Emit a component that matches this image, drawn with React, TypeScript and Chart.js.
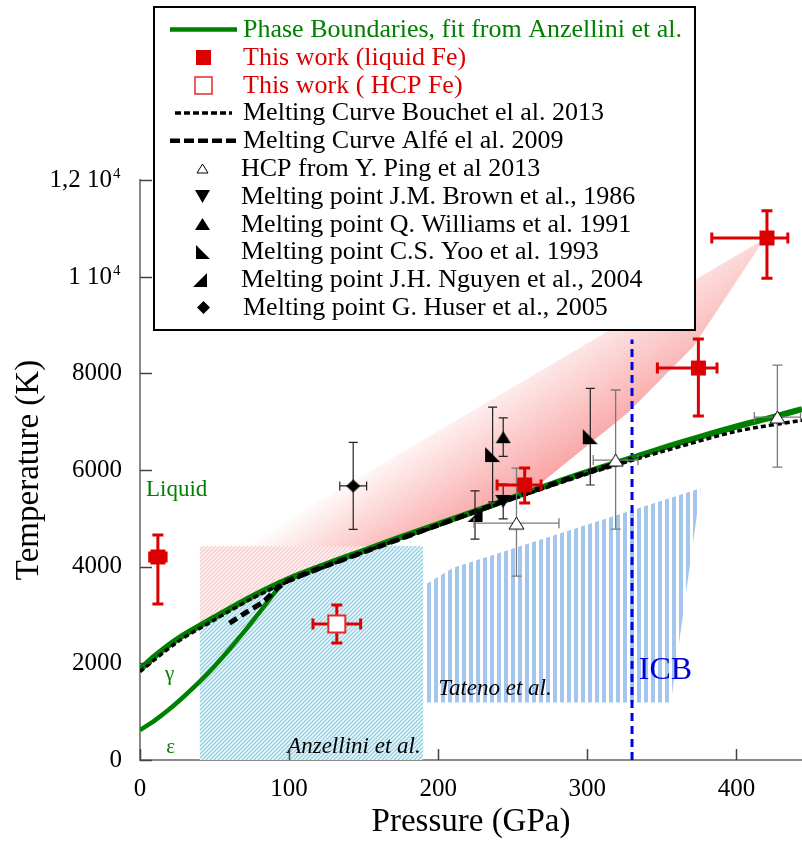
import React, { useEffect, useRef } from 'react';
import { Chart, registerables } from 'chart.js';

Chart.register(...registerables);

// ---------------- data ----------------
// Phase boundaries (fit from Anzellini et al.) : melting line and gamma/epsilon line
const meltP = [0, 10, 25, 50, 75, 100, 125, 150, 175, 200, 225, 250, 275, 300, 330, 350, 375, 400, 425, 444];
const meltT = [1870, 2150, 2500, 2950, 3380, 3750, 4050, 4330, 4610, 4880, 5150, 5430, 5700, 5960, 6250, 6450, 6680, 6900, 7100, 7260];
const gammaEpsP = [0, 10, 20, 30, 40, 50, 60, 70, 80, 90, 96];
const gammaEpsT = [620, 820, 1060, 1330, 1620, 1940, 2290, 2660, 3050, 3450, 3700];

// Melting curves
const bouchetP = [0, 25, 50, 75, 100, 150, 200, 250, 300, 330, 350, 400, 444];
const bouchetT = [1830, 2440, 2900, 3340, 3700, 4300, 4850, 5400, 5920, 6200, 6380, 6800, 7030];
const alfeP = [60, 72, 83, 92, 100, 150, 200, 250, 300, 330];
const alfeT = [2830, 3070, 3280, 3550, 3720, 4300, 4860, 5420, 5950, 6230];

// Shaded regions
const bandP = [67, 420, 416, 371, 327, 269, 250, 200, 150, 100, 67];
const bandT = [4390, 10800, 10650, 8550, 7180, 5730, 5430, 4880, 4330, 3750, 3320];
const anzHatchP = [40, 190];
const anzHatchT = [4420, 4420];
const anzSolidP = [40, 60, 80, 100, 120, 140, 156, 190];
const anzSolidT = [2780, 3130, 3460, 3750, 3990, 4220, 4420, 4420];
const tatenoP = [191, 191, 210, 376, 356];
const tatenoT = [1190, 3620, 3980, 5620, 1190];
const icbP = [330, 330];
const icbT = [0, 8700];

// This work, liquid Fe
const liqP = [12, 258, 374.5, 420.5];
const liqT = [4200, 5690, 8110, 10800];
const liqPMinus = [5.5, 18.5, 27.5, 37];
const liqPPlus = [5.5, 11, 12.5, 14];
const liqTMinus = [970, 375, 995, 835];
const liqTPlus = [455, 350, 600, 565];

// This work, HCP Fe
const hcpP = [132];
const hcpT = [2815];
const hcpPErr = [16];
const hcpTPlus = [390];
const hcpTMinus = [395];

// HCP from Y. Ping et al 2013
const pingP = [252.5, 319, 427.5];
const pingT = [4900, 6205, 7095];
const pingPErr = [28.5, 15, 15.5];
const pingTPlus = [1140, 1450, 1075];
const pingTMinus = [1095, 1430, 1035];

// Melting points
const brownP = [243.6];
const brownT = [5350];
const brownTErr = [360];
const williamsP = [243.6];
const williamsT = [6680];
const williamsTErr = [400];
const yooP = [236.5, 302];
const yooT = [6320, 6690];
const yooTErr = [980, 1000];
const nguyenP = [224.7];
const nguyenT = [5070];
const nguyenTErr = [500];
const huserP = [143];
const huserT = [5670];
const huserPErr = [9];
const huserTErr = [900];

// Axis ticks
const yTickMantissa: Record<number, string> = { 10000: '1 10', 12000: '1,2 10' };
const yTickExponent = '4';

// ---------------- styles ----------------
const FONT = '"Liberation Serif", "Times New Roman", "DejaVu Serif", serif';
const GREEN = 'rgb(0,128,0)';
const RED = 'rgb(221,0,0)';
const ICB_BLUE = 'rgb(0,0,221)';
const GRAD_ACROSS_FROM = { x: 241.6, y: 7545 };
const GRAD_ACROSS_TO = { x: 275.7, y: 5762 };
const GRAD_ALONG_FROM = { x: 67, y: 4385 };
const GRAD_ALONG_TO = { x: 420, y: 10800 };

const pts = (xs: number[], ys: number[]) => xs.map((x, i) => ({ x, y: ys[i] }));

function makeMarker(kind: string, w: number, h: number, fill: string | null, stroke: string | null, lw: number): HTMLCanvasElement {
  const pad = 2;
  const c = document.createElement('canvas');
  c.width = Math.ceil(w + pad * 2);
  c.height = Math.ceil(h + pad * 2);
  const g = c.getContext('2d')!;
  g.translate(pad, pad);
  g.beginPath();
  if (kind === 'square') g.rect(0, 0, w, h);
  else if (kind === 'up') { g.moveTo(w / 2, 0); g.lineTo(w, h); g.lineTo(0, h); }
  else if (kind === 'down') { g.moveTo(0, 0); g.lineTo(w, 0); g.lineTo(w / 2, h); }
  else if (kind === 'll') { g.moveTo(0, 0); g.lineTo(w, h); g.lineTo(0, h); }
  else if (kind === 'lr') { g.moveTo(w, 0); g.lineTo(w, h); g.lineTo(0, h); }
  else if (kind === 'diamond') { g.moveTo(w / 2, 0); g.lineTo(w, h / 2); g.lineTo(w / 2, h); g.lineTo(0, h / 2); }
  g.closePath();
  if (fill) { g.fillStyle = fill; g.fill(); }
  if (stroke) { g.lineWidth = lw; g.strokeStyle = stroke; g.stroke(); }
  return c;
}

function diagPattern(ctx: CanvasRenderingContext2D, base: string, line: string, size: number, lw: number) {
  const c = document.createElement('canvas');
  c.width = size; c.height = size;
  const g = c.getContext('2d')!;
  g.fillStyle = base; g.fillRect(0, 0, size, size);
  g.strokeStyle = line; g.lineWidth = lw;
  g.beginPath();
  g.moveTo(-1, 1); g.lineTo(1, -1);
  g.moveTo(0, size); g.lineTo(size, 0);
  g.moveTo(size - 1, size + 1); g.lineTo(size + 1, size - 1);
  g.stroke();
  return ctx.createPattern(c, 'repeat')!;
}

function stripePattern(ctx: CanvasRenderingContext2D, color: string, period: number, width: number) {
  const c = document.createElement('canvas');
  c.width = period; c.height = 4;
  const g = c.getContext('2d')!;
  g.fillStyle = '#ffffff'; g.fillRect(0, 0, period, 4);
  g.fillStyle = color; g.fillRect(0, 0, width, 4);
  return ctx.createPattern(c, 'repeat')!;
}

const errorBarPlugin = {
  id: 'errorBars',
  beforeDatasetDraw(chart: any, args: any) {
    const ds: any = chart.data.datasets[args.index];
    const eb = ds.errorBars;
    if (!eb) return;
    const { ctx } = chart;
    const xs = chart.scales.x, ys = chart.scales.y;
    ctx.save();
    ctx.strokeStyle = eb.color;
    ctx.lineWidth = eb.width;
    ds.data.forEach((p: any, i: number) => {
      const cx = xs.getPixelForValue(p.x);
      const cy = ys.getPixelForValue(p.y);
      const tp = eb.tPlus ? eb.tPlus[i] : 0;
      const tm = eb.tMinus ? eb.tMinus[i] : 0;
      const pp = eb.pPlus ? eb.pPlus[i] : 0;
      const pm = eb.pMinus ? eb.pMinus[i] : 0;
      const c = eb.cap;
      ctx.beginPath();
      if (tp || tm) {
        const y1 = ys.getPixelForValue(p.y + tp);
        const y2 = ys.getPixelForValue(p.y - tm);
        ctx.moveTo(cx, y1); ctx.lineTo(cx, y2);
        ctx.moveTo(cx - c, y1); ctx.lineTo(cx + c, y1);
        ctx.moveTo(cx - c, y2); ctx.lineTo(cx + c, y2);
      }
      if (pp || pm) {
        const x1 = xs.getPixelForValue(p.x - pm);
        const x2 = xs.getPixelForValue(p.x + pp);
        ctx.moveTo(x1, cy); ctx.lineTo(x2, cy);
        ctx.moveTo(x1, cy - c); ctx.lineTo(x1, cy + c);
        ctx.moveTo(x2, cy - c); ctx.lineTo(x2, cy + c);
      }
      ctx.stroke();
    });
    ctx.restore();
  },
};

const annotations = [
  { text: 'Liquid', x: 4, y: 5584, color: GREEN, font: `23px ${FONT}`, align: 'left', base: 'middle' },
  { text: 'γ', x: 19.8, y: 1779, color: GREEN, font: `21px ${FONT}`, align: 'center', base: 'middle' },
  { text: 'ε', x: 20.5, y: 269, color: GREEN, font: `21px ${FONT}`, align: 'center', base: 'middle' },
  { text: 'Anzellini et al.', x: 98.7, y: 145, color: '#000', font: `italic 23px ${FONT}`, align: 'left', base: 'alphabetic' },
  { text: 'Tateno et al.', x: 200, y: 1344, color: '#000', font: `italic 23px ${FONT}`, align: 'left', base: 'alphabetic' },
  { text: 'ICB', x: 334.5, y: 1669, color: ICB_BLUE, font: `32px ${FONT}`, align: 'left', base: 'alphabetic' },
];

const annotationPlugin = {
  id: 'annotations',
  afterDatasetsDraw(chart: any) {
    const { ctx } = chart;
    const xs = chart.scales.x, ys = chart.scales.y;
    ctx.save();
    annotations.forEach((a) => {
      ctx.font = a.font;
      ctx.fillStyle = a.color;
      ctx.textAlign = a.align;
      ctx.textBaseline = a.base;
      ctx.fillText(a.text, xs.getPixelForValue(a.x), ys.getPixelForValue(a.y));
    });
    ctx.restore();
  },
};

const tickMarkPlugin = {
  id: 'innerTicks',
  afterDraw(chart: any) {
    const { ctx, chartArea } = chart;
    const xs = chart.scales.x, ys = chart.scales.y;
    ctx.save();
    ctx.strokeStyle = '#444';
    ctx.lineWidth = 1.5;
    ctx.beginPath();
    xs.ticks.forEach((t: any) => {
      const px = Math.round(xs.getPixelForValue(t.value)) + 0.5;
      ctx.moveTo(px, chartArea.bottom);
      ctx.lineTo(px, chartArea.bottom - 11);
    });
    ys.ticks.forEach((t: any) => {
      const py = Math.round(ys.getPixelForValue(t.value)) + 0.5;
      ctx.moveTo(chartArea.left, py);
      ctx.lineTo(chartArea.left + 12, py);
    });
    ctx.stroke();
    // power-of-ten labels with a raised exponent
    ctx.fillStyle = '#000';
    ys.ticks.forEach((t: any) => {
      const m = yTickMantissa[t.value];
      if (!m) return;
      const py = ys.getPixelForValue(t.value);
      ctx.textBaseline = 'alphabetic';
      ctx.font = `25px ${FONT}`;
      ctx.textAlign = 'right';
      ctx.fillText(m, 112, py + 7);
      ctx.font = `15px ${FONT}`;
      ctx.textAlign = 'left';
      ctx.fillText(yTickExponent, 113, py - 2);
    });
    ctx.restore();
  },
};

const legendPlugin = {
  id: 'boxLegend',
  afterDraw(chart: any) {
    const { ctx } = chart;
    const items = chart.data.datasets
      .filter((d: any) => d.legend)
      .sort((a: any, b: any) => a.legend.row - b.legend.row);
    ctx.save();
    ctx.fillStyle = '#fff';
    ctx.fillRect(154, 7, 541, 323);
    ctx.strokeStyle = '#000';
    ctx.lineWidth = 2;
    ctx.strokeRect(154, 7, 541, 323);
    items.forEach((d: any) => {
      const lg = d.legend;
      const base = 37 + 27.8 * lg.row;
      const cy = base - 7.5;
      if (lg.line) {
        ctx.save();
        ctx.strokeStyle = d.borderColor;
        ctx.lineWidth = lg.line.width;
        ctx.setLineDash(lg.line.dash || []);
        ctx.beginPath();
        ctx.moveTo(lg.line.x0, cy);
        ctx.lineTo(lg.line.x1, cy);
        ctx.stroke();
        ctx.restore();
      }
      if (lg.icon) {
        ctx.drawImage(lg.icon, Math.round(lg.ix - lg.icon.width / 2), Math.round(cy - lg.icon.height / 2));
      }
      ctx.font = `26px ${FONT}`;
      ctx.fillStyle = lg.color;
      ctx.textAlign = 'left';
      ctx.textBaseline = 'alphabetic';
      ctx.fillText(d.label, lg.tx, base);
    });
    ctx.restore();
  },
};

function linearGradient(from: { x: number; y: number }, to: { x: number; y: number }, stops: [number, string][]) {
  return (context: any) => {
    const chart = context.chart;
    if (!chart.chartArea) return 'rgba(0,0,0,0)';
    const xs = chart.scales.x, ys = chart.scales.y;
    const g = chart.ctx.createLinearGradient(
      xs.getPixelForValue(from.x), ys.getPixelForValue(from.y),
      xs.getPixelForValue(to.x), ys.getPixelForValue(to.y));
    stops.forEach(([o, c]) => g.addColorStop(o, c));
    return g;
  };
}

export default function App() {
  const ref = useRef<HTMLCanvasElement>(null);

  useEffect(() => {
    const canvas = ref.current!;
    const ctx = canvas.getContext('2d')!;

    const pinkHatch = diagPattern(ctx, 'rgb(243,206,206)', '#ffffff', 4, 1.2);
    const blueHatch = diagPattern(ctx, 'rgb(162,210,226)', '#ffffff', 4, 1.2);
    const tatenoStripes = stripePattern(ctx, 'rgb(164,198,236)', 7, 4);

    const mLiq = makeMarker('square', 15, 15, RED, null, 0);
    const mHcp = makeMarker('square', 17, 17, '#fff', 'rgb(230,40,40)', 2);
    const mPing = makeMarker('up', 15, 12, '#fff', '#000', 1);
    const mBrown = makeMarker('down', 16, 13, '#000', null, 0);
    const mWill = makeMarker('up', 15, 12, '#000', null, 0);
    const mYoo = makeMarker('ll', 15, 15, '#000', null, 0);
    const mNguyen = makeMarker('lr', 15, 14, '#000', null, 0);
    const mHuser = makeMarker('diamond', 14, 13, '#000', null, 0);

    const lgLiq = makeMarker('square', 15, 15, RED, null, 0);
    const lgHcp = makeMarker('square', 17, 17, '#fff', 'rgb(230,40,40)', 1.5);
    const lgPing = makeMarker('up', 11, 9, '#fff', '#000', 1);
    const lgBrown = makeMarker('down', 15, 13, '#000', null, 0);
    const lgWill = makeMarker('up', 15, 12, '#000', null, 0);
    const lgYoo = makeMarker('ll', 14, 14, '#000', null, 0);
    const lgNguyen = makeMarker('lr', 14, 14, '#000', null, 0);
    const lgHuser = makeMarker('diamond', 13, 13, '#000', null, 0);

    const gradAcross = linearGradient(GRAD_ACROSS_FROM, GRAD_ACROSS_TO, [
      [0, 'rgba(248,140,140,0)'], [1, 'rgba(248,140,140,0.78)'],
    ]);
    const gradAlong = linearGradient(GRAD_ALONG_FROM, GRAD_ALONG_TO, [
      [0, 'rgba(248,150,150,0)'], [1, 'rgba(248,150,150,0.38)'],
    ]);

    const noLine = { borderColor: 'rgba(0,0,0,0)', borderWidth: 0, pointRadius: 0, showLine: true, clip: false };
    const curve = { pointRadius: 0, showLine: true, fill: false, tension: 0.3 };
    const marker = { showLine: false, pointRadius: 7, clip: false };

    const datasets: any[] = [
      { label: 'bandAlong', data: pts(bandP, bandT), ...noLine, fill: 'shape', backgroundColor: gradAlong, order: 101 },
      { label: 'bandAcross', data: pts(bandP, bandT), ...noLine, fill: 'shape', backgroundColor: gradAcross, order: 100 },
      { label: 'anzHatch', data: pts(anzHatchP, anzHatchT), ...noLine, fill: 'origin', backgroundColor: pinkHatch, order: 99 },
      { label: 'anzSolid', data: pts(anzSolidP, anzSolidT), ...noLine, fill: 'origin', backgroundColor: blueHatch, tension: 0.3, order: 98 },
      { label: 'tateno', data: pts(tatenoP, tatenoT), ...noLine, fill: 'shape', backgroundColor: tatenoStripes, order: 97 },
      { label: 'ICB', data: pts(icbP, icbT), pointRadius: 0, showLine: true, fill: false, borderColor: ICB_BLUE, borderWidth: 3, borderDash: [8, 5], order: 90 },
      { label: 'gammaEps', data: pts(gammaEpsP, gammaEpsT), ...curve, borderColor: GREEN, borderWidth: 4.5, order: 80 },
      { label: 'Phase Boundaries, fit from Anzellini et al.', data: pts(meltP, meltT), ...curve, borderColor: GREEN, borderWidth: 6, order: 79,
        legend: { row: 0, color: GREEN, tx: 243, line: { x0: 170, x1: 237, width: 4.5 } } },
      { label: 'Melting Curve Alfé el al. 2009', data: pts(alfeP, alfeT), ...curve, borderColor: '#000', borderWidth: 5, borderDash: [9, 5], order: 78,
        legend: { row: 4, color: '#000', tx: 243, line: { x0: 170, x1: 237, width: 4.5, dash: [10, 4] } } },
      { label: 'Melting Curve Bouchet el al. 2013', data: pts(bouchetP, bouchetT), ...curve, borderColor: '#000', borderWidth: 3.5, borderDash: [5, 3], order: 77,
        legend: { row: 3, color: '#000', tx: 243, line: { x0: 175, x1: 232, width: 3.5, dash: [6, 3] } } },

      { label: 'Melting point G. Huser et al., 2005', data: pts(huserP, huserT), ...marker, pointStyle: mHuser, order: 20,
        errorBars: { color: '#222', width: 1.2, cap: 4.5, pPlus: huserPErr, pMinus: huserPErr, tPlus: huserTErr, tMinus: huserTErr },
        legend: { row: 10, color: '#000', tx: 243, icon: lgHuser, ix: 203 } },
      { label: 'Melting point J.H. Nguyen et al., 2004', data: pts(nguyenP, nguyenT), ...marker, pointStyle: mNguyen, order: 19,
        errorBars: { color: '#222', width: 1.2, cap: 4.5, tPlus: nguyenTErr, tMinus: nguyenTErr },
        legend: { row: 9, color: '#000', tx: 241, icon: lgNguyen, ix: 200 } },
      { label: 'Melting point C.S. Yoo et al. 1993', data: pts(yooP, yooT), ...marker, pointStyle: mYoo, order: 18,
        errorBars: { color: '#222', width: 1.2, cap: 4.5, tPlus: yooTErr, tMinus: yooTErr },
        legend: { row: 8, color: '#000', tx: 241, icon: lgYoo, ix: 203 } },
      { label: 'Melting point Q. Williams et al. 1991', data: pts(williamsP, williamsT), ...marker, pointStyle: mWill, order: 17,
        errorBars: { color: '#222', width: 1.2, cap: 4.5, tPlus: williamsTErr, tMinus: williamsTErr },
        legend: { row: 7, color: '#000', tx: 241, icon: lgWill, ix: 202 } },
      { label: 'Melting point J.M. Brown et al., 1986', data: pts(brownP, brownT), ...marker, pointStyle: mBrown, order: 16,
        errorBars: { color: '#222', width: 1.2, cap: 4.5, tPlus: brownTErr, tMinus: brownTErr },
        legend: { row: 6, color: '#000', tx: 241, icon: lgBrown, ix: 202 } },
      { label: 'HCP from Y. Ping et al 2013', data: pts(pingP, pingT), ...marker, pointStyle: mPing, order: 15,
        errorBars: { color: '#7a7a7a', width: 1.3, cap: 5, pPlus: pingPErr, pMinus: pingPErr, tPlus: pingTPlus, tMinus: pingTMinus },
        legend: { row: 5, color: '#000', tx: 241, icon: lgPing, ix: 202 } },
      { label: 'This work ( HCP Fe)', data: pts(hcpP, hcpT), ...marker, pointStyle: mHcp, order: 11,
        errorBars: { color: RED, width: 3, cap: 5.5, pPlus: hcpPErr, pMinus: hcpPErr, tPlus: hcpTPlus, tMinus: hcpTMinus },
        legend: { row: 2, color: RED, tx: 243, icon: lgHcp, ix: 203 } },
      { label: 'This work (liquid Fe)', data: pts(liqP, liqT), ...marker, pointStyle: mLiq, order: 10,
        errorBars: { color: RED, width: 3, cap: 5.5, pPlus: liqPPlus, pMinus: liqPMinus, tPlus: liqTPlus, tMinus: liqTMinus },
        legend: { row: 1, color: RED, tx: 243, icon: lgLiq, ix: 203.5 } },
    ];

    const chart = new Chart(canvas, {
      type: 'scatter',
      data: { datasets },
      options: {
        responsive: false,
        maintainAspectRatio: false,
        animation: false,
        devicePixelRatio: 1,
        events: [],
        layout: { autoPadding: false, padding: { top: 180, left: 0, right: 0, bottom: 0 } },
        plugins: { legend: { display: false }, tooltip: { enabled: false } },
        scales: {
          x: {
            type: 'linear', position: 'bottom', min: 0, max: 444, z: 1,
            grid: { display: false, drawTicks: false },
            border: { display: true, color: '#8a8a8a', width: 2 },
            ticks: { stepSize: 100, includeBounds: false, padding: 14, color: '#000', maxRotation: 0, autoSkip: false,
              font: { family: FONT, size: 25 }, callback: (v: any) => String(v) },
            title: { display: true, text: 'Pressure (GPa)', color: '#000', font: { family: FONT, size: 33 }, padding: { top: 0, bottom: 0 } },
            afterFit: (s: any) => { s.height = 82; },
          },
          y: {
            type: 'linear', position: 'left', min: 0, max: 12000, z: 1,
            grid: { display: false, drawTicks: false },
            border: { display: true, color: '#8a8a8a', width: 2 },
            ticks: { stepSize: 2000, padding: 18, color: '#000', autoSkip: false,
              font: { family: FONT, size: 25 },
              callback: (v: any) => (yTickMantissa[v] ? '' : String(v)) },
            title: { display: true, text: 'Temperature (K)', color: '#000', font: { family: FONT, size: 33 }, padding: { top: 10, bottom: 0 } },
            afterFit: (s: any) => { s.width = 140; },
          },
        },
      } as any,
      plugins: [errorBarPlugin, annotationPlugin, tickMarkPlugin, legendPlugin],
    });

    return () => chart.destroy();
  }, []);

  return (
    <div style={{ position: 'absolute', left: 0, top: 0, width: 802, height: 842, background: '#fff' }}>
      <canvas ref={ref} width={802} height={842} style={{ display: 'block', width: 802, height: 842 }} />
    </div>
  );
}
